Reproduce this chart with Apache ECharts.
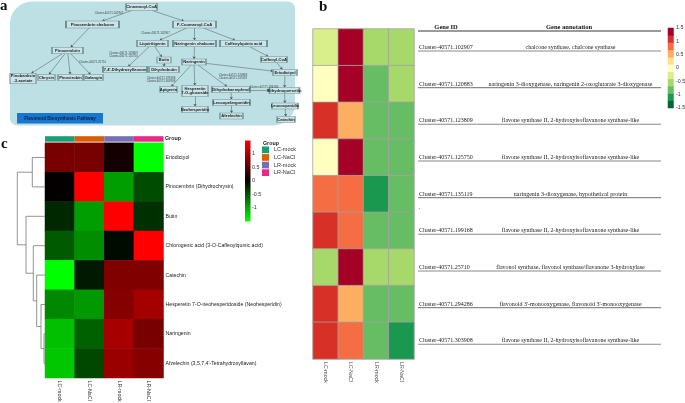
<!DOCTYPE html>
<html><head><meta charset="utf-8">
<script src="https://cdn.jsdelivr.net/npm/echarts@6/dist/echarts.min.js"></script>
<style>html,body{margin:0;padding:0;background:#fff}#c{width:685px;height:403px}</style>
</head><body><div id="c"></div>
<script>
// ---------------- DATA ----------------
const groups = ['LC-mock', 'LC-NaCl', 'LR-mock', 'LR-NaCl'];
const groupColors = ['#1b9e77', '#d95f02', '#7570b3', '#e7298a'];

// panel b: gene expression (row z-scores)
const geneIds = ['Cluster-40571.102907','Cluster-40571.120883','Cluster-40571.123809','Cluster-40571.125750','Cluster-40571.135119','Cluster-40571.199168','Cluster-40571.25710','Cluster-40571.294286','Cluster-40571.303908'];
const geneAnnotations = [
  'chalcone synthase, chalcone synthase',
  'naringenin 3-dioxygenase, naringenin 2-oxoglutarate 3-dioxygenase',
  'flavone synthase II, 2-hydroxyisoflavanone synthase-like',
  'flavone synthase II, 2-hydroxyisoflavanone synthase-like',
  'naringenin 3-dioxygenase, hypothetical protein',
  'flavone synthase II, 2-hydroxyisoflavanone synthase-like',
  'flavonol synthase, flavonol synthase/flavanone 3-hydroxylase',
  "flavonoid 3'-monooxygenase, flavonoid 3'-monooxygenase",
  'flavone synthase II, 2-hydroxyisoflavanone synthase-like'
];
const geneZ = [
  [-0.3, 1.5, -0.6, -0.6],
  [ 0.0, 1.5, -0.9, -0.6],
  [ 1.2, 0.6, -0.9, -0.9],
  [ 0.0, 1.5, -0.9, -0.9],
  [ 0.9, 0.9, -1.2, -0.9],
  [ 1.2, 0.9, -0.9, -0.9],
  [-0.6, 1.5, -0.6, -0.6],
  [ 1.2, 0.6, -0.9, -0.9],
  [ 1.2, 0.9, -0.9, -1.2]
];
const geneLegendLevels = [-1.5, -1.2, -0.9, -0.6, -0.3, 0, 0.3, 0.6, 0.9, 1.2, 1.5];

// panel c: metabolite z-scores
const metabolites = ['Eriodictyol','Pinocembrin (Dihydrochrysin)','Butin','Chlorogenic acid (3-O-Caffeoylquinic acid)','Catechin','Hesperetin 7-O-neohesperidoside (Neohesperidin)','Naringenin',"Afzelechin (3,5,7,4'-Tetrahydroxyflavan)"];
const metaboliteZ = [
  [ 0.68,  0.68,  0.12, -1.45],
  [ 0.02,  1.45, -0.90, -0.43],
  [-0.23, -0.90,  1.45, -0.27],
  [-0.51, -0.80, -0.06,  1.45],
  [-1.45, -0.14,  0.73,  0.73],
  [-0.78, -0.87,  0.76,  0.94],
  [-1.09, -0.55,  0.95,  0.69],
  [-1.13, -0.41,  0.88,  0.77]
];
// row dendrogram: [childA, childB, height]; number = row index, 'mK' = K-th merge
const dendroMerges = [
  [6, 7, 1.0],
  [5, 'm0', 4.0],
  [4, 'm1', 8.3],
  [3, 'm2', 11.7],
  [0, 1, 12.7],
  [2, 'm3', 19.0],
  ['m4', 'm5', 27.7]
];

// panel a: pathway
const pathwayNodes = ['Cinnamoyl-CoA','Pinocembrin chalcone','P-Coumaroyl-CoA','Pinocembrin','Liquiritigenin','Naringenin chalcone','Caffeoylquinic acid','Butin','Naringenin','Caffeoyl-CoA',"7,4'-Dihydroxyflavone",'Dihydrobutin','Eriodictyol','Pinobanksin\n-3-acetate','Chrysin','Pinostrobin','Galangin','Apigenin','Hesperetin\n7-O-glucoside','Dihydrokaempferol','Dihydroquercetin','Leucopelargonidin','Leucocyanidin','Neohesperidin','Afzelechin','Catechin'];
const pathwayEdges = [
  ['Cinnamoyl-CoA','Pinocembrin chalcone'],['Cinnamoyl-CoA','P-Coumaroyl-CoA'],
  ['Pinocembrin chalcone','Pinocembrin'],
  ['Pinocembrin','Pinobanksin\n-3-acetate'],['Pinocembrin','Chrysin'],['Pinocembrin','Pinostrobin'],['Pinocembrin','Galangin'],
  ['P-Coumaroyl-CoA','Liquiritigenin'],['P-Coumaroyl-CoA','Naringenin chalcone'],['P-Coumaroyl-CoA','Caffeoylquinic acid'],
  ['Liquiritigenin',"7,4'-Dihydroxyflavone"],['Liquiritigenin','Butin'],['Butin','Dihydrobutin'],
  ['Naringenin chalcone','Naringenin'],['Caffeoylquinic acid','Caffeoyl-CoA'],['Caffeoyl-CoA','Eriodictyol'],
  ['Naringenin','Eriodictyol'],['Naringenin','Apigenin'],['Naringenin','Hesperetin\n7-O-glucoside'],['Naringenin','Dihydrokaempferol'],
  ['Hesperetin\n7-O-glucoside','Neohesperidin'],['Dihydrokaempferol','Leucopelargonidin'],['Dihydrokaempferol','Dihydroquercetin'],
  ['Leucopelargonidin','Afzelechin'],['Eriodictyol','Dihydroquercetin'],['Dihydroquercetin','Leucocyanidin'],['Leucocyanidin','Catechin']
];
const pathwayTags = ['Cluster-40571.102907','Cluster-40571.102907','Cluster-40571.123809\nCluster-40571.125750','Cluster-40571.25710','Cluster-40571.199168\nCluster-40571.303908','Cluster-40571.120883\nCluster-40571.135119','Cluster-40571.294286'];

// ---------------- LAYOUT (positions / sizes only) ----------------
const nodeLayout = {
  'Cinnamoyl-CoA':[141.5,7,31,7], 'Pinocembrin chalcone':[92.5,24.5,53,7], 'P-Coumaroyl-CoA':[194.5,24.5,43,7],
  'Pinocembrin':[67.5,50.5,31,6.5], 'Liquiritigenin':[152.5,43.5,31,6.5], 'Naringenin chalcone':[194.5,43.5,43,6.5],
  'Caffeoylquinic acid':[243.5,43.5,47,6.5], 'Butin':[164,60,14,6], 'Naringenin':[194,62,24,6], 'Caffeoyl-CoA':[274,59.5,26,6],
  "7,4'-Dihydroxyflavone":[125,69.5,44,6], 'Dihydrobutin':[164,69.5,30,6], 'Eriodictyol':[285,72.5,24,6],
  'Pinobanksin\n-3-acetate':[23,78.5,26,10.5], 'Chrysin':[46.5,77.5,17,6], 'Pinostrobin':[70.5,77.5,25,6], 'Galangin':[93.5,77.5,19,6],
  'Apigenin':[168.5,89.5,17,6], 'Hesperetin\n7-O-glucoside':[195,91,26,11], 'Dihydrokaempferol':[231,89.5,38,6],
  'Dihydroquercetin':[284.5,90.5,30,6], 'Leucopelargonidin':[231.5,102.5,37,6], 'Leucocyanidin':[285,106,26,6],
  'Neohesperidin':[195,109.5,26,6], 'Afzelechin':[231.5,116,23,6], 'Catechin':[286,119.5,18,6]
};
const tagLayout = [[109,13],[155.5,33],[123.5,54.5],[92.5,62],[161,79.5],[233,77],[264,87.5]];

// ---------------- BUILD ----------------
const SERIF = '"Liberation Serif","Times New Roman",serif';
const SANS = '"Liberation Sans",Arial,sans-serif';

function clip(n, dx, dy) {
  const [cx, cy, w, h] = nodeLayout[n];
  const tx = dx === 0 ? Infinity : (w / 2) / Math.abs(dx);
  const ty = dy === 0 ? Infinity : (h / 2) / Math.abs(dy);
  const t = Math.min(tx, ty);
  return [cx + dx * t, cy + dy * t];
}
const graphData = pathwayNodes.map(n => ({ name: n, value: [nodeLayout[n][0], nodeLayout[n][1]], symbolSize: [nodeLayout[n][2], nodeLayout[n][3]] }));
const edgeData = pathwayEdges.map(([s, t]) => {
  const dx = nodeLayout[t][0] - nodeLayout[s][0], dy = nodeLayout[t][1] - nodeLayout[s][1];
  return { coords: [clip(s, dx, dy), clip(t, -dx, -dy)] };
});
const tagData = pathwayTags.map((t, i) => ({ name: t, value: tagLayout[i] }));

const dataB = [];
geneZ.forEach((row, r) => row.forEach((v, c) => dataB.push([c, r, v])));
const dataBLegend = geneLegendLevels.map((v, i) => [0, i, v]);
const dataC = [];
metaboliteZ.forEach((row, r) => row.forEach((v, c) => dataC.push([c, r, v])));

// dendrogram
const dn = {};
metabolites.forEach((m, i) => dn[i] = { y: i, h: 0 });
const dendroLines = [];
dendroMerges.forEach(([a, b, H], k) => {
  const A = dn[a], B = dn[b];
  dendroLines.push({ coords: [[A.h, A.y], [H, A.y], [H, B.y], [B.h, B.y]] });
  dn['m' + k] = { y: (A.y + B.y) / 2, h: H };
});

const hidden = { show: false };
const chart = echarts.init(document.getElementById('c'), null, { renderer: 'canvas' });
const G = (o) => Object.assign({ outerBoundsMode: 'none', containLabel: false }, o);

const option = {
  animation: false,
  backgroundColor: '#fff',
  grid: [
    G({ left: 0, top: 0, width: 685, height: 403 }),          // 0 pathway
    G({ left: 313, top: 29, width: 101, height: 330 }),        // 1 heatmap b
    G({ left: 668, top: 28, width: 5.5, height: 80 }),         // 2 colorbar b
    G({ left: 45, top: 142.8, width: 118.5, height: 235.2 }),  // 3 heatmap c
    G({ left: 45, top: 136.2, width: 118.5, height: 5.5 }),    // 4 group bar
    G({ left: 245, top: 140.5, width: 5.5, height: 81 }),      // 5 colorbar c
    G({ left: 10, top: 142.8, width: 35, height: 235.2 })      // 6 dendrogram
  ],
  xAxis: [
    { gridIndex: 0, type: 'value', min: 0, max: 685, show: false },
    { gridIndex: 1, type: 'category', data: groups, position: 'bottom',
      axisLine: hidden, axisTick: hidden, splitLine: hidden,
      axisLabel: { rotate: -90, margin: 3, fontSize: 5.2, color: '#444', fontFamily: SANS } },
    { gridIndex: 2, type: 'category', data: ['k'], show: false },
    { gridIndex: 3, type: 'category', data: groups, position: 'bottom',
      axisLine: hidden, axisTick: hidden, splitLine: hidden,
      axisLabel: { rotate: -90, margin: 2.5, fontSize: 5.3, color: '#333', fontFamily: SANS } },
    { gridIndex: 4, type: 'category', data: groups, show: false },
    { gridIndex: 5, type: 'category', data: ['k'], show: false },
    { gridIndex: 6, type: 'value', min: 0, max: 35, inverse: true, show: false }
  ],
  yAxis: [
    { gridIndex: 0, type: 'value', min: 0, max: 403, inverse: true, show: false },
    { gridIndex: 1, type: 'category', data: geneIds, inverse: true, position: 'right',
      axisLine: hidden, axisTick: hidden, splitLine: hidden,
      axisLabel: { margin: 5, formatter: (v, i) => '{id|' + v + '}{ann|' + geneAnnotations[i] + '}',
        rich: {
          id: { width: 60, align: 'left', fontFamily: SERIF, fontSize: 6, color: '#222' },
          ann: { width: 183, align: 'center', fontFamily: SERIF, fontSize: 6, color: '#222' }
        } } },
    { gridIndex: 2, type: 'category', data: geneLegendLevels.map(String), position: 'left', show: false },
    { gridIndex: 2, type: 'value', min: -1.5, max: 1.5, interval: 0.5, position: 'right',
      axisLine: hidden, axisTick: hidden, splitLine: hidden,
      axisLabel: { margin: 2.5, fontSize: 5.3, color: '#333', fontFamily: SANS } },
    { gridIndex: 3, type: 'category', data: metabolites, inverse: true, position: 'right',
      axisLine: hidden, axisTick: hidden, splitLine: hidden,
      axisLabel: { margin: 2, fontSize: 5.2, color: '#222', fontFamily: SANS } },
    { gridIndex: 4, type: 'value', min: 0, max: 1, show: false },
    { gridIndex: 5, type: 'value', min: -1.5, max: 1.5, interval: 0.5, position: 'right',
      axisLine: hidden, axisTick: hidden, splitLine: hidden,
      axisLabel: { margin: 1.5, fontSize: 5.3, color: '#333', fontFamily: SANS, showMinLabel: false, showMaxLabel: false } },
    { gridIndex: 6, type: 'value', min: -0.5, max: 7.5, inverse: true, show: false }
  ],
  visualMap: [
    { type: 'continuous', show: false, min: -1.5, max: 1.5, seriesIndex: [3, 4], dimension: 2,
      inRange: { color: ['#006837','#1a9850','#66bd63','#a6d96a','#d9ef8b','#ffffbf','#fee08b','#fdae61','#f46d43','#d73027','#a50026'] } },
    { type: 'continuous', show: false, min: -1.45, max: 1.45, seriesIndex: [5], dimension: 2,
      inRange: { color: ['#00ff00', '#000000', '#ff0000'] } }
  ],
  legend: {
    data: groups, orient: 'vertical', left: 262, top: 146.5, itemWidth: 7, itemHeight: 6.7, itemGap: 0.9,
    icon: 'rect', selectedMode: false, padding: 0,
    textStyle: { fontSize: 5.5, color: '#333', fontFamily: SANS }
  },
  series: [
    { type: 'graph', layout: 'none', coordinateSystem: 'cartesian2d', xAxisIndex: 0, yAxisIndex: 0,
      symbol: 'rect', data: graphData, links: [], silent: true, z: 5,
      itemStyle: { color: '#cbe4e7', borderColor: '#6f8e93', borderWidth: 0.7 },
      label: { show: true, position: 'inside', fontSize: 4.1, lineHeight: 4.6, fontWeight: 'bold', color: '#222', fontFamily: SANS },
      emphasis: { disabled: true } },
    { type: 'lines', coordinateSystem: 'cartesian2d', xAxisIndex: 0, yAxisIndex: 0, data: edgeData, silent: true, z: 4,
      symbol: ['none', 'arrow'], symbolSize: 2.6,
      lineStyle: { color: '#4a5a5c', width: 0.5, opacity: 1 } },
    { type: 'scatter', xAxisIndex: 0, yAxisIndex: 0, data: tagData, symbolSize: 1, silent: true, z: 6,
      itemStyle: { color: 'transparent' },
      label: { show: true, position: 'inside', formatter: p => p.name, fontSize: 2.9, lineHeight: 3.4, color: '#222', fontFamily: SANS } },
    { type: 'heatmap', xAxisIndex: 1, yAxisIndex: 1, data: dataB, silent: true,
      itemStyle: { borderColor: '#a3a3a3', borderWidth: 0.8 } },
    { type: 'heatmap', xAxisIndex: 2, yAxisIndex: 2, data: dataBLegend, silent: true },
    { type: 'heatmap', xAxisIndex: 3, yAxisIndex: 4, data: dataC, silent: true },
    ...groups.map((g, i) => ({
      type: 'bar', name: g, xAxisIndex: 4, yAxisIndex: 5, stack: 'grp', barWidth: '100%', silent: true,
      itemStyle: { color: groupColors[i] },
      data: groups.map((_, j) => j === i ? 1 : '-')
    })),
    { type: 'bar', xAxisIndex: 5, yAxisIndex: 6, stack: 'cb', barWidth: '100%', silent: true, data: [1.5],
      itemStyle: { color: new echarts.graphic.LinearGradient(0, 0, 0, 1, [{ offset: 0, color: '#ff0000' }, { offset: 1, color: '#000000' }]) } },
    { type: 'bar', xAxisIndex: 5, yAxisIndex: 6, stack: 'cb', barWidth: '100%', silent: true, data: [-1.5],
      itemStyle: { color: new echarts.graphic.LinearGradient(0, 0, 0, 1, [{ offset: 0, color: '#000000' }, { offset: 1, color: '#00ff00' }]) } },
    { type: 'lines', coordinateSystem: 'cartesian2d', xAxisIndex: 6, yAxisIndex: 7, polyline: true, data: dendroLines, silent: true,
      lineStyle: { color: '#777', width: 0.8, opacity: 1 } }
  ]
};
chart.setOption(option);

// ---------- graphics (annotations) ----------
const gfx = [
  { type: 'rect', z: -10, shape: { x: 10, y: 1.5, width: 285, height: 124, r: [22, 7, 22, 7] }, style: { fill: '#bde0e4' } },
  { type: 'rect', z: 10, shape: { x: 17, y: 113, width: 86, height: 10.5 }, style: { fill: '#1976cf' } },
  { type: 'text', z: 11, x: 60, y: 118.3, style: { text: 'Flavonoid Biosynthesis Pathway', fontSize: 4.6, fontWeight: 'bold', fill: '#0b2350', fontFamily: SANS, align: 'center', verticalAlign: 'middle' } },
  { type: 'text', x: 0, y: 6, style: { text: 'a', fontSize: 15, fontWeight: 'bold', fill: '#111', fontFamily: SERIF, verticalAlign: 'middle' } },
  { type: 'text', x: 319, y: 7, style: { text: 'b', fontSize: 15, fontWeight: 'bold', fill: '#111', fontFamily: SERIF, verticalAlign: 'middle' } },
  { type: 'text', x: 1, y: 144, style: { text: 'c', fontSize: 15, fontWeight: 'bold', fill: '#111', fontFamily: SERIF, verticalAlign: 'middle' } },
  { type: 'text', x: 446, y: 27, style: { text: 'Gene ID', fontSize: 6.5, fontWeight: 'bold', fill: '#111', fontFamily: SERIF, align: 'center', verticalAlign: 'middle' } },
  { type: 'text', x: 569, y: 27, style: { text: 'Gene annotation', fontSize: 6.5, fontWeight: 'bold', fill: '#111', fontFamily: SERIF, align: 'center', verticalAlign: 'middle' } },
  { type: 'line', shape: { x1: 418, y1: 31, x2: 661, y2: 31 }, style: { stroke: '#222', lineWidth: 0.9 } },
  { type: 'text', x: 165, y: 139, style: { text: 'Group', fontSize: 5.3, fontWeight: 'bold', fill: '#222', fontFamily: SANS, verticalAlign: 'middle' } },
  { type: 'text', x: 263, y: 143.3, style: { text: 'Group', fontSize: 5.3, fontWeight: 'bold', fill: '#222', fontFamily: SANS, verticalAlign: 'middle' } },
  { type: 'text', x: 419, y: 207, style: { text: '.', fontSize: 6, fill: '#444', fontFamily: SERIF, verticalAlign: 'middle' } }
];
geneIds.forEach(id => {
  const y = chart.convertToPixel({ yAxisIndex: 1 }, id) + 3.6;
  gfx.push({ type: 'line', shape: { x1: 418, y1: y, x2: 661, y2: y }, style: { stroke: '#8a8a8a', lineWidth: 1.1 } });
});
chart.setOption({ graphic: gfx });
</script>
</body></html>
